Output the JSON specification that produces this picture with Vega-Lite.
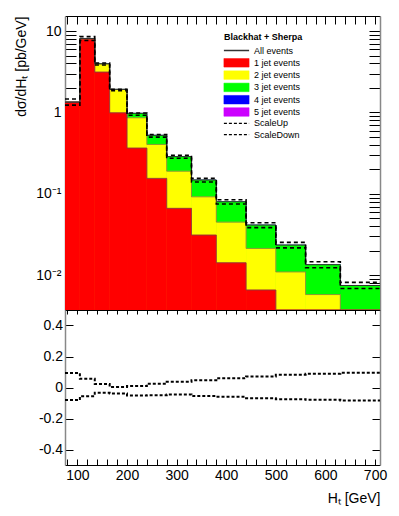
{
  "$schema": "https://vega.github.io/schema/vega-lite/v6.json",
  "background": "white",
  "padding": {"left": 13, "top": 15, "right": 20, "bottom": 10},
  "config": {
    "view": {"stroke": null},
    "font": "Liberation Sans",
    "axis": {
      "labelFont": "Liberation Sans", "titleFont": "Liberation Sans",
      "labelColor": "black", "titleColor": "black", "tickColor": "black",
      "grid": false, "labelFontSize": 14, "titleFontSize": 14, "titleFontWeight": "normal",
      "domainColor": "black", "domainWidth": 1, "tickWidth": 1, "labelOverlap": false
    }
  },
  "datasets": {
    "h": [
      {"lo": 75, "hi": 105, "j1": 1.34, "j2": 1.34, "j3": 1.34, "j4": 1.34, "j5": 1.34, "all": 1.34, "up": 1.465, "down": 1.231, "rup": 0.093, "rdown": -0.081},
      {"lo": 105, "hi": 135, "j1": 7.95, "j2": 8.1, "j3": 8.1, "j4": 8.1, "j5": 8.1, "all": 8.1, "up": 8.55, "down": 7.65, "rup": 0.056, "rdown": -0.056},
      {"lo": 135, "hi": 165, "j1": 3.13, "j2": 3.94, "j3": 3.96, "j4": 3.96, "j5": 3.96, "all": 3.96, "up": 4.05, "down": 3.83, "rup": 0.022, "rdown": -0.034},
      {"lo": 165, "hi": 200, "j1": 0.99, "j2": 1.92, "j3": 1.92, "j4": 1.92, "j5": 1.92, "all": 1.92, "up": 1.925, "down": 1.845, "rup": 0.003, "rdown": -0.039},
      {"lo": 200, "hi": 240, "j1": 0.365, "j2": 0.86, "j3": 0.975, "j4": 0.975, "j5": 0.975, "all": 0.975, "up": 0.984, "down": 0.924, "rup": 0.009, "rdown": -0.052},
      {"lo": 240, "hi": 280, "j1": 0.155, "j2": 0.405, "j3": 0.524, "j4": 0.524, "j5": 0.524, "all": 0.524, "up": 0.537, "down": 0.498, "rup": 0.024, "rdown": -0.05},
      {"lo": 280, "hi": 330, "j1": 0.0664, "j2": 0.19, "j3": 0.287, "j4": 0.287, "j5": 0.287, "all": 0.287, "up": 0.298, "down": 0.274, "rup": 0.037, "rdown": -0.045},
      {"lo": 330, "hi": 380, "j1": 0.0312, "j2": 0.092, "j3": 0.148, "j4": 0.148, "j5": 0.148, "all": 0.148, "up": 0.155, "down": 0.14, "rup": 0.047, "rdown": -0.055},
      {"lo": 380, "hi": 440, "j1": 0.01425, "j2": 0.045, "j3": 0.08, "j4": 0.08, "j5": 0.08, "all": 0.08, "up": 0.0848, "down": 0.0752, "rup": 0.06, "rdown": -0.06},
      {"lo": 440, "hi": 500, "j1": 0.0066, "j2": 0.0214, "j3": 0.0414, "j4": 0.0414, "j5": 0.0414, "all": 0.0414, "up": 0.0443, "down": 0.0385, "rup": 0.071, "rdown": -0.069},
      {"lo": 500, "hi": 560, "j1": 0.0025, "j2": 0.011, "j3": 0.0235, "j4": 0.0235, "j5": 0.0235, "all": 0.0235, "up": 0.0254, "down": 0.0217, "rup": 0.082, "rdown": -0.075},
      {"lo": 560, "hi": 630, "j1": 0.0012, "j2": 0.0058, "j3": 0.0135, "j4": 0.0135, "j5": 0.0135, "all": 0.0135, "up": 0.0147, "down": 0.0124, "rup": 0.088, "rdown": -0.079},
      {"lo": 630, "hi": 710, "j1": 0.0006, "j2": 0.0031, "j3": 0.0075, "j4": 0.0075, "j5": 0.0075, "all": 0.0075, "up": 0.0082, "down": 0.0069, "rup": 0.095, "rdown": -0.084}
    ]
  },
  "spacing": 0,
  "bounds": "flush",
  "vconcat": [
    {
      "width": 315,
      "height": 294,
      "data": {"name": "h"},
      "resolve": {"axis": {"x": "independent", "y": "independent"}},
      "layer": [
        {
          "transform": [{"fold": ["j5", "j4", "j3", "j2", "j1"], "as": ["key", "val"]}],
          "mark": {"type": "bar", "clip": true, "strokeWidth": 0.6},
          "encoding": {
            "x": {"field": "lo", "type": "quantitative",
              "scale": {"domain": [75, 710], "nice": false, "zero": false},
              "axis": {"orient": "bottom", "values": [80,100,120,140,160,180,200,220,240,260,280,300,320,340,360,380,400,420,440,460,480,500,520,540,560,580,600,620,640,660,680,700],
                "labels": false, "title": null, "tickSize": -8,
                "encode": {"ticks": {"update": {"y2": {"signal": "datum.value % 100 === 0 ? -8 : -4"}}}}}},
            "x2": {"field": "hi"},
            "y": {"field": "val", "type": "quantitative", "stack": null,
              "scale": {"type": "log", "domain": [0.00375, 15.3], "nice": false, "clamp": true},
              "axis": {"orient": "left",
                "values": [0.004,0.005,0.006,0.007,0.008,0.009,0.01,0.02,0.03,0.04,0.05,0.06,0.07,0.08,0.09,0.1,0.2,0.3,0.4,0.5,0.6,0.7,0.8,0.9,1,2,3,4,5,6,7,8,9,10],
                "labelExpr": "datum.value === 10 ? '10' : datum.value === 1 ? '1' : datum.value === 0.1 ? '10⁻¹' : datum.value === 0.01 ? '10⁻²' : ''",
                "tickSize": -11,
                "encode": {"ticks": {"update": {"x2": {"signal": "indexof([0.01, 0.1, 1, 10], datum.value) >= 0 ? 11 : 6"}}}},
                "labelPadding": 15, "labelFlush": false,
                "domainColor": "#888888", "domainWidth": 1.5,
                "title": "dσ/dHₜ [pb/GeV]", "titleAnchor": "end", "titleX": -37}},
            "y2": {"datum": 0.00375},
            "order": {"field": "key", "sort": "descending"},
            "stroke": {"field": "key", "type": "nominal", "legend": null,
              "scale": {"domain": ["j1", "j2", "j3", "j4", "j5"],
                "range": ["#ff0000", "#ffff00", "#00ff00", "#0000ff", "#cc00ff"]}},
            "color": {"field": "key", "type": "nominal",
              "scale": {"domain": ["all", "j1", "j2", "j3", "j4", "j5", "up", "down"],
                "range": ["#333333", "#ff0000", "#ffff00", "#00ff00", "#0000ff", "#cc00ff", "#000000", "#000000"]},
              "legend": {
                "orient": "none", "legendX": 159, "legendY": 17, "padding": 0,
                "title": "Blackhat + Sherpa", "titleFont": "Liberation Sans", "titleFontSize": 9,
                "titleFontWeight": "bold", "titleColor": "black", "titlePadding": 4,
                "labelFont": "Liberation Sans", "labelFontSize": 9, "labelColor": "black",
                "symbolSize": 81, "symbolOffset": 8, "labelOffset": 13, "rowPadding": 1.3,
                "labelExpr": "datum.label === 'all' ? 'All events' : datum.label === 'j1' ? '1 jet events' : datum.label === 'j2' ? '2 jet events' : datum.label === 'j3' ? '3 jet events' : datum.label === 'j4' ? '4 jet events' : datum.label === 'j5' ? '5 jet events' : datum.label === 'up' ? 'ScaleUp' : 'ScaleDown'",
                "encode": {"symbols": {"update": {
                  "shape": {"signal": "datum.value === 'all' || datum.value === 'up' || datum.value === 'down' ? 'M-2.8,0H2.8' : 'M-2.8,-0.95H2.8V0.95H-2.8Z'"},
                  "fill": {"signal": "datum.value === 'j1' ? '#ff0000' : datum.value === 'j2' ? '#ffff00' : datum.value === 'j3' ? '#00ff00' : datum.value === 'j4' ? '#0000ff' : datum.value === 'j5' ? '#cc00ff' : 'transparent'"},
                  "stroke": {"signal": "datum.value === 'all' ? '#444444' : datum.value === 'up' || datum.value === 'down' ? '#000000' : '#aaaaaa'"},
                  "strokeDash": {"signal": "datum.value === 'up' || datum.value === 'down' ? [3, 2] : [1, 0]"},
                  "strokeWidth": {"signal": "datum.value === 'all' || datum.value === 'up' || datum.value === 'down' ? 1.3 : 0.5"}
                }}}
              }}
          }
        },
        {
          "transform": [{"fold": ["j1", "j2"], "as": ["key", "val"]}, {"fold": ["lo", "hi"], "as": ["side", "edge"]}],
          "mark": {"type": "line", "clip": true, "stroke": "#555555", "strokeWidth": 0.6},
          "encoding": {
            "x": {"field": "edge", "type": "quantitative", "axis": null},
            "y": {"field": "val", "type": "quantitative", "axis": null},
            "detail": {"field": "key"},
            "order": [{"field": "edge", "type": "quantitative"}, {"field": "side", "type": "nominal"}]
          }
        },
        {
          "transform": [{"fold": ["lo", "hi"], "as": ["side", "edge"]}],
          "mark": {"type": "line", "clip": true, "strokeWidth": 1},
          "encoding": {
            "x": {"field": "edge", "type": "quantitative", "axis": null},
            "y": {"field": "all", "type": "quantitative", "axis": null},
            "color": {"datum": "all"},
            "order": [{"field": "edge", "type": "quantitative"}, {"field": "side", "type": "nominal"}]
          }
        },
        {
          "transform": [{"fold": ["up", "down"], "as": ["key", "val"]}, {"fold": ["lo", "hi"], "as": ["side", "edge"]}],
          "mark": {"type": "line", "clip": true, "strokeWidth": 1.6, "strokeDash": [4, 3]},
          "encoding": {
            "x": {"field": "edge", "type": "quantitative",
              "axis": {"orient": "top", "values": [80,100,120,140,160,180,200,220,240,260,280,300,320,340,360,380,400,420,440,460,480,500,520,540,560,580,600,620,640,660,680,700],
                "labels": false, "title": null, "tickSize": -8,
                "encode": {"ticks": {"update": {"y2": {"signal": "datum.value % 100 === 0 ? 8 : 4"}}}}}},
            "y": {"field": "val", "type": "quantitative",
              "axis": {"orient": "right",
                "values": [0.004,0.005,0.006,0.007,0.008,0.009,0.01,0.02,0.03,0.04,0.05,0.06,0.07,0.08,0.09,0.1,0.2,0.3,0.4,0.5,0.6,0.7,0.8,0.9,1,2,3,4,5,6,7,8,9,10],
                "labels": false, "title": null, "tickSize": -11,
                "encode": {"ticks": {"update": {"x2": {"signal": "indexof([0.01, 0.1, 1, 10], datum.value) >= 0 ? -11 : -6"}}}},
                "domainColor": "#888888", "domainWidth": 1.5}},
            "color": {"field": "key", "type": "nominal"},
            "detail": {"field": "key"},
            "order": [{"field": "edge", "type": "quantitative"}, {"field": "side", "type": "nominal"}]
          }
        }
      ]
    },
    {
      "width": 315,
      "height": 155,
      "data": {"name": "h"},
      "resolve": {"axis": {"x": "independent", "y": "independent"}},
      "layer": [
        {
          "transform": [{"fold": ["lo", "hi"], "as": ["side", "edge"]}],
          "mark": {"type": "line", "clip": true, "color": "black", "strokeWidth": 2, "strokeDash": [3, 2]},
          "encoding": {
            "x": {"field": "edge", "type": "quantitative",
              "scale": {"domain": [75, 710], "nice": false, "zero": false},
              "axis": {"orient": "bottom", "values": [80,100,120,140,160,180,200,220,240,260,280,300,320,340,360,380,400,420,440,460,480,500,520,540,560,580,600,620,640,660,680,700],
                "labelExpr": "datum.value % 100 === 0 ? datum.label : ''",
                "tickSize": -6,
                "encode": {"ticks": {"update": {"y2": {"signal": "datum.value % 100 === 0 ? -6 : -3.5"}}}},
                "labelPadding": 9,
                "title": "Hₜ [GeV]", "titleAnchor": "end", "titlePadding": 9}},
            "y": {"field": "rup", "type": "quantitative",
              "scale": {"domain": [-0.5, 0.5], "nice": false, "zero": false},
              "axis": {"orient": "left", "values": [-0.4, -0.2, 0, 0.2, 0.4],
                "labelExpr": "datum.value === 0 ? '0' : (datum.value < 0 ? '-' + format(-datum.value, '.1f') : format(datum.value, '.1f'))",
                "tickSize": -8, "labelPadding": 10.5, "labelFlush": false,
                "domainColor": "#888888", "domainWidth": 1.5, "title": null}},
            "order": [{"field": "edge", "type": "quantitative"}, {"field": "side", "type": "nominal"}]
          }
        },
        {
          "transform": [{"fold": ["lo", "hi"], "as": ["side", "edge"]}],
          "mark": {"type": "line", "clip": true, "color": "black", "strokeWidth": 2, "strokeDash": [3, 2]},
          "encoding": {
            "x": {"field": "edge", "type": "quantitative",
              "axis": {"orient": "top", "values": [80,100,120,140,160,180,200,220,240,260,280,300,320,340,360,380,400,420,440,460,480,500,520,540,560,580,600,620,640,660,680,700],
                "labels": false, "title": null, "tickSize": -4,
                "encode": {"ticks": {"update": {"y2": {"signal": "datum.value % 100 === 0 ? 4 : 2.5"}}}}}},
            "y": {"field": "rdown", "type": "quantitative",
              "axis": {"orient": "right", "values": [-0.4, -0.2, 0, 0.2, 0.4],
                "labels": false, "title": null, "tickSize": -8,
                "domainColor": "#888888", "domainWidth": 1.5}},
            "order": [{"field": "edge", "type": "quantitative"}, {"field": "side", "type": "nominal"}]
          }
        }
      ]
    }
  ]
}
